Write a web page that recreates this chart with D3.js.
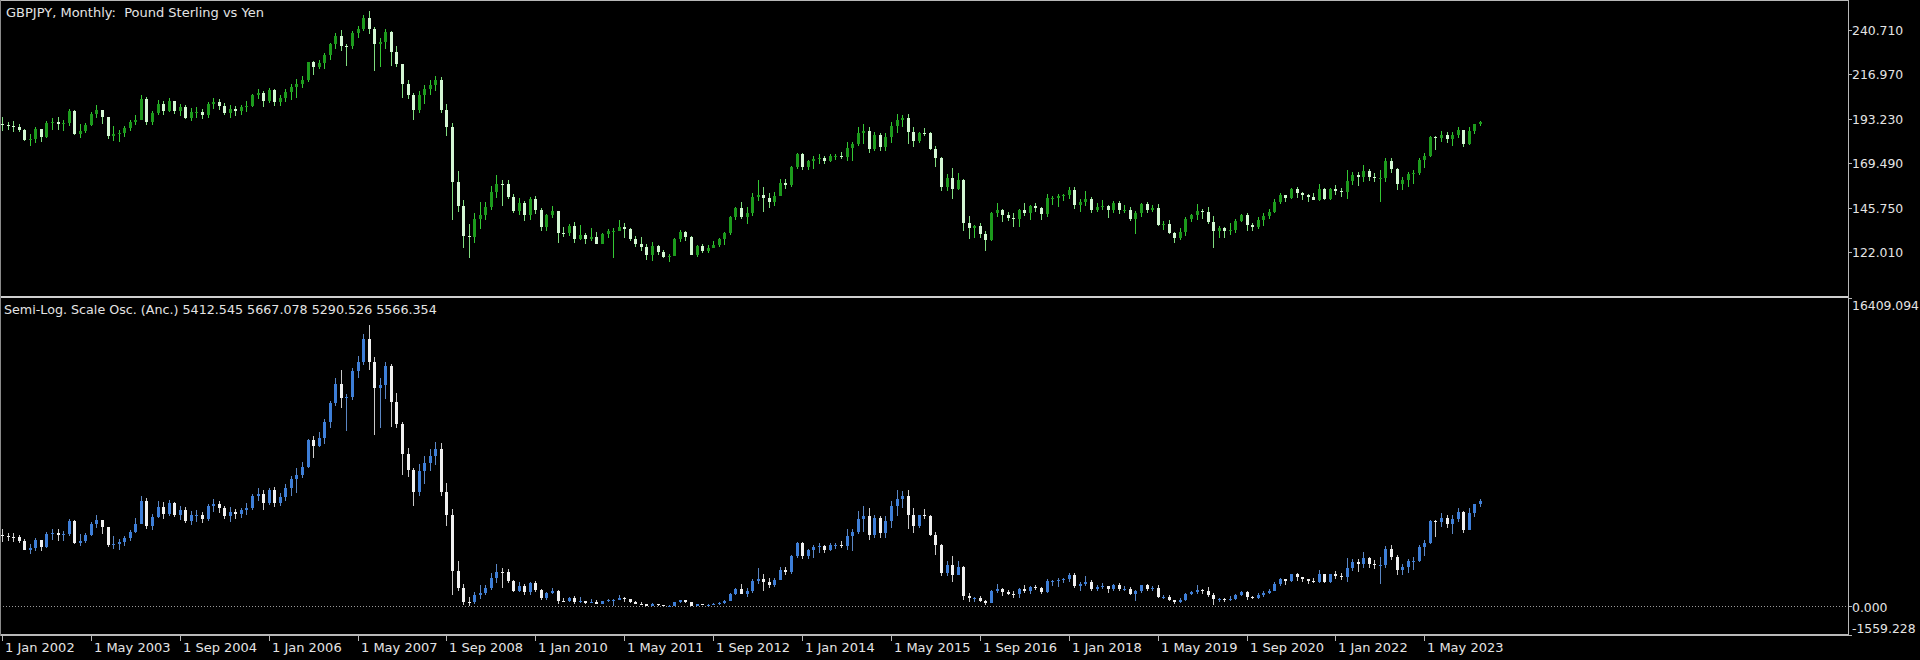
<!DOCTYPE html>
<html><head><meta charset="utf-8">
<script src="https://cdn.jsdelivr.net/npm/d3@7"></script>
<style>html,body{margin:0;padding:0;background:#000;overflow:hidden}svg text{font-family:"DejaVu Sans",sans-serif;white-space:pre}</style>
</head><body>
<svg id="chart" width="1920" height="660"></svg>
<script>
// ---- data: GBPJPY monthly, Jan 2002 .. Mar 2024 ----
const chartTitle = "GBPJPY, Monthly:  Pound Sterling vs Yen";
const oscName = "Semi-Log. Scale Osc. (Anc.)";
const firstMonth = "2002-01";
const priceFirstOpen = 190.6;
const priceClose = [
189.9,189.4,189.1,187.2,181.7,182.5,187.7,183.4,191.2,191.6,190.3,191.1,
197.2,185.2,186.6,190.0,195.8,197.7,194.4,184.0,184.9,185.9,188.3,191.4,
192.7,203.7,191.7,196.2,200.9,197.5,202.5,197.2,199.3,193.9,196.9,197.0,
195.2,201.1,202.3,200.3,196.4,198.6,197.4,199.4,200.2,205.9,206.9,202.8,
208.6,202.1,204.4,207.6,210.5,211.6,214.2,223.4,220.7,222.9,227.5,233.1,
237.3,232.4,232.0,239.1,241.0,247.3,241.0,233.4,234.5,239.9,229.2,222.3,
212.0,206.2,197.9,205.9,208.9,211.3,213.8,198.0,188.7,159.6,146.6,130.5,
130.1,139.7,141.9,145.9,153.9,158.4,158.2,151.6,143.7,148.0,142.0,150.2,
144.5,135.4,141.7,143.9,132.3,132.2,135.7,129.2,131.3,128.8,130.2,126.5,
131.5,133.0,133.2,135.6,134.1,129.2,126.5,124.7,120.3,125.4,121.8,119.5,
120.1,129.2,132.5,129.8,120.6,125.3,122.5,124.4,125.8,128.7,132.2,140.9,
145.3,140.5,143.1,151.4,152.7,150.7,148.8,152.2,158.9,157.7,167.5,174.4,
167.7,170.5,172.0,172.5,170.5,173.3,173.5,172.8,177.8,179.7,185.5,186.6,
177.0,184.6,178.1,183.3,189.6,192.4,193.4,186.0,181.3,185.9,185.4,177.2,
172.4,156.9,161.6,155.6,160.3,137.4,135.1,135.8,131.4,128.3,142.9,144.4,
141.9,140.0,139.8,144.4,142.8,146.4,145.7,142.2,150.8,150.9,152.1,152.3,
155.0,146.9,149.0,150.4,144.7,146.2,146.8,144.3,148.2,144.2,144.7,139.9,
142.8,147.7,144.5,145.3,136.7,136.9,132.4,129.3,132.9,139.7,141.6,144.1,
143.2,138.3,133.5,134.6,133.1,133.7,138.5,141.6,136.3,135.5,139.1,141.1,
143.5,148.5,152.5,151.1,155.8,153.6,152.5,151.3,149.9,155.9,150.4,155.7,
154.7,154.2,159.9,163.3,162.0,165.3,162.2,161.5,161.6,170.5,166.4,158.6,
160.4,163.8,164.0,171.2,173.4,183.3,182.8,184.5,182.3,184.4,187.1,179.6,
186.7,190.3,191.5];
const priceHigh = [
194.0,191.5,191.8,190.5,188.0,185.2,188.9,187.8,192.0,193.8,194.0,192.5,
198.5,198.2,190.3,191.2,196.8,200.4,198.0,194.4,189.5,187.3,189.3,192.4,
195.5,206.0,205.0,197.3,203.4,202.9,204.2,203.0,201.1,200.6,198.8,199.5,
198.6,202.1,204.4,203.6,201.5,200.7,200.0,200.5,202.5,206.5,209.3,208.3,
209.5,209.3,206.0,209.3,212.0,214.4,216.2,223.8,224.2,224.7,228.4,233.7,
239.2,240.9,233.0,240.0,242.6,248.6,251.1,242.4,236.5,241.0,240.4,232.1,
222.5,214.0,207.0,208.3,211.2,213.8,215.9,215.5,201.3,191.0,165.5,149.8,
137.2,142.8,148.5,149.0,157.3,163.1,160.6,160.3,153.0,151.1,149.5,151.4,
152.2,145.5,142.2,146.5,144.0,135.4,137.0,137.8,136.7,132.3,134.8,132.5,
132.1,134.5,134.8,139.2,137.3,135.0,130.8,130.1,126.2,127.1,125.6,123.0,
121.0,129.6,133.6,133.4,130.4,126.0,126.4,125.5,128.0,129.6,132.7,141.4,
146.2,149.0,146.3,153.3,160.7,156.5,153.6,154.0,161.0,161.0,168.1,174.9,
174.9,171.4,173.1,174.4,173.1,174.2,174.4,175.4,180.8,180.9,188.6,190.7,
188.6,186.0,185.4,185.6,191.4,195.9,195.3,195.9,188.8,186.0,188.5,186.0,
178.6,172.9,163.9,166.8,164.0,161.2,141.1,136.6,137.5,133.2,143.5,148.4,
145.2,143.6,142.7,145.2,148.1,147.0,148.1,146.3,152.8,152.0,152.9,153.2,
156.6,156.6,150.4,154.8,151.6,148.2,149.7,147.3,149.1,149.5,147.2,146.2,
144.0,148.2,148.9,147.2,147.9,138.5,139.2,132.6,134.8,140.9,142.3,147.9,
144.8,146.0,141.1,135.9,135.6,137.6,139.6,142.3,142.7,137.7,140.5,142.8,
144.9,150.2,153.4,152.6,156.1,156.8,154.1,152.8,153.4,158.2,156.0,156.2,
157.8,156.3,165.6,165.0,164.9,168.7,166.3,164.3,166.0,172.1,172.2,167.0,
162.0,165.0,166.0,172.3,174.9,183.9,184.0,186.8,186.0,186.0,188.6,187.5,
188.8,190.6,192.2];
const priceLow = [
186.5,187.0,186.3,186.0,181.2,178.7,180.5,181.0,182.7,187.5,187.0,186.8,
189.4,184.8,183.2,185.5,189.3,193.5,190.5,182.6,181.6,181.0,183.4,186.6,
189.7,192.5,190.1,189.7,195.5,195.1,196.6,195.8,194.6,192.9,192.3,193.6,
193.2,193.9,198.5,198.0,195.2,193.5,194.9,195.4,197.1,199.5,203.7,199.6,
201.7,200.3,200.1,202.0,203.3,204.3,209.7,213.1,216.4,219.6,219.9,224.9,
230.8,229.4,221.3,230.5,236.4,240.2,238.6,219.0,221.1,230.3,221.5,221.1,
204.5,203.6,192.6,196.3,201.0,206.0,208.2,196.3,183.9,139.3,143.5,123.9,
118.8,126.6,134.2,138.9,144.6,150.7,146.4,150.3,142.6,142.0,138.8,139.0,
142.5,133.4,133.0,140.0,126.8,130.2,130.5,126.7,128.2,126.1,127.8,126.1,
126.4,129.6,119.0,133.0,129.7,127.9,124.8,122.4,117.8,117.0,120.5,118.7,
116.8,119.8,127.6,127.9,120.2,119.5,121.5,121.7,124.0,124.6,125.9,131.0,
139.1,139.7,136.9,141.1,149.2,143.5,145.8,146.5,152.0,155.6,156.6,166.6,
165.7,165.9,166.2,168.9,169.0,170.3,171.4,171.6,170.7,170.4,178.8,179.7,
174.9,176.0,175.9,176.0,180.5,185.6,189.0,180.0,178.1,180.5,184.1,176.5,
167.4,154.5,154.8,150.3,155.0,133.0,128.8,129.4,129.6,122.4,127.8,140.6,
137.8,138.5,135.6,135.6,141.0,139.3,143.4,139.3,140.7,147.3,146.3,149.3,
150.4,145.2,143.2,146.8,143.0,143.2,144.4,140.4,142.8,142.4,142.8,138.7,
131.5,140.6,142.6,143.2,135.8,134.0,131.6,126.6,128.2,130.4,138.3,139.3,
139.4,136.8,124.0,129.3,129.5,131.2,132.3,137.8,133.1,133.4,134.4,136.0,
139.4,142.8,147.6,148.8,150.5,150.8,150.0,148.5,149.6,149.3,149.6,149.6,
152.6,151.6,150.1,157.6,157.4,159.6,160.0,159.2,148.8,159.7,164.2,155.3,
155.3,156.8,158.3,163.2,166.8,172.8,176.3,180.6,180.5,178.8,183.0,178.0,
179.3,185.1,189.4];

// Semi-Log. Scale Osc. (Anc.) values
const oscFirstOpen = 3791;
const oscClose = [
3724,3678,3651,3478,2997,3064,3523,3139,3848,3886,3762,3838,
4496,3343,3471,3785,4353,4547,4214,3234,3316,3407,3627,3920,
4374,5600,4269,4750,5274,4893,5462,4860,5091,4502,4826,4838,
4641,5298,5438,5204,4771,5014,4882,5102,5192,5861,5982,5496,
6190,5482,5824,6294,6746,6973,7411,8835,8530,8961,9790,10828,
11803,11063,11110,12516,13006,14229,13006,11596,11795,12797,10848,9666,
8101,7224,6048,7179,7627,7993,8383,6061,4853,1867,952,215,
206,591,703,928,1460,1807,1791,1298,801,1057,708,1202,
846,398,693,812,279,275,410,180,245,169,210,108,
252,305,313,405,345,180,108,72,11,86,26,6,
9,180,282,197,13,84,36,64,94,165,265,651,
911,644,783,1310,1403,1261,1131,1366,1885,1786,2657,3361,
2675,2955,3107,3160,2955,3244,3265,3192,3735,3953,4646,4785,
3754,4666,3904,4503,5317,5699,5839,4848,4262,4834,4770,3780,
3241,1772,2176,1666,2060,508,405,435,261,163,795,883,
738,635,625,883,790,1007,963,755,1305,1313,1399,1413,
1619,1040,1178,1277,900,993,1033,877,1124,872,900,630,
790,1085,888,938,476,485,297,192,316,621,734,865,
813,550,339,384,324,348,561,734,457,421,590,695,
806,1145,1429,1326,1682,1511,1429,1341,1241,1690,1277,1674,
1596,1556,2025,2332,2211,2520,2230,2166,2176,3042,2626,1914,
2069,2377,2396,3114,3350,4503,4443,4654,4383,4641,4990,4057,
4938,5412.545,5566.354];
const oscHigh = [
4117,3876,3905,3781,3550,3298,3633,3532,3924,4098,4117,3972,
4628,4556,3814,3901,4455,4825,4577,4214,3738,3535,3720,4017,
4673,5873,5754,4870,5566,5507,5659,5519,5298,5239,5036,5114,
5014,5414,5682,5589,5345,5251,5169,5227,5462,5934,6276,6152,
6301,6354,6020,6511,6943,7353,7691,8895,9059,9239,9935,10929,
12143,12585,11286,12684,13312,14487,14989,13273,12163,13006,12891,11362,
9799,8414,7342,7536,7977,8383,8717,8653,6519,5140,2371,1152,
475,752,1090,1122,1720,2203,1988,1962,1396,1263,1155,1284,
1339,905,719,965,817,398,466,501,453,279,373,282,
271,366,373,567,488,381,229,200,103,126,90,43,
15,192,327,319,216,98,108,76,146,192,281,676,
965,1144,971,1445,2036,1690,1468,1496,2062,2062,2715,3415,
3415,3046,3222,3361,3222,3338,3361,3470,4081,4093,5039,5310,
5187,4848,4770,4796,5562,6190,6106,6190,5212,4848,5173,4848,
3940,3296,2387,2666,2396,2141,695,471,512,329,830,1136,
931,835,783,931,1116,1047,1116,1000,1451,1391,1458,1481,
1748,1748,1277,1603,1377,1124,1227,1067,1185,1213,1059,993,
858,1124,1172,1059,1097,561,595,303,392,684,767,1097,
904,981,695,439,425,517,615,767,783,522,663,790,
910,1262,1495,1436,1706,1764,1548,1451,1495,1881,1698,1715,
1847,1724,2549,2492,2482,2856,2617,2424,2587,3209,3220,2686,
2211,2492,2587,3231,3515,4576,4589,4951,4848,4848,5187,5042,
5212,5451,5667.078];
const oscLow = [
3415,3460,3397,3370,2954,2747,2895,2938,3081,3505,3460,3442,
3729,3307,3165,3371,3720,4125,3833,3114,3029,2978,3182,3471,
3900,4353,4102,4062,4673,4630,4794,4706,4577,4395,4332,4470,
4427,4502,5003,4948,4641,4459,4609,4662,4849,5114,5600,5125,
5356,5269,5310,5606,5832,6026,6800,7345,7899,8461,8602,9479,
10672,10547,9305,10963,12144,12853,12553,9123,9468,11042,9533,9468,
6976,6846,5345,5831,6476,7194,7522,5831,4271,561,774,56,
2,112,349,553,852,1236,959,1209,741,708,548,558,
735,319,305,605,117,210,219,115,152,100,141,100,
105,192,2,305,194,144,74,34,0,0,13,2,
0,7,136,144,11,6,20,22,58,64,96,235,
573,603,471,675,1159,806,940,984,1352,1619,1698,2570,
2486,2504,2533,2795,2805,2935,3046,3066,2975,2945,3851,3953,
3515,3639,3628,3639,4164,4796,5238,4104,3904,4164,4601,3697,
2726,1580,1603,1269,1619,320,177,196,202,36,148,668,
526,561,425,425,690,601,823,601,673,1067,1000,1199,
1277,931,813,1033,801,813,883,657,790,767,790,570,
265,668,778,813,435,358,268,118,160,227,550,601,
606,482,61,194,198,248,293,526,324,336,376,443,
606,790,1078,1131,1284,1305,1247,1145,1220,1199,1220,1220,
1436,1377,1255,1830,1813,2000,2034,1966,1164,2009,2415,1643,
1643,1764,1889,2323,2666,3285,3674,4177,4164,3851,4467,3868,
4034,4731,5290.526];

const priceTicks = [240.710, 216.970, 193.230, 169.490, 145.750, 122.010];
const oscTicks = [16409.094, 0.000, -1559.228];
const xTickLabels = ["1 Jan 2002","1 May 2003","1 Sep 2004","1 Jan 2006","1 May 2007","1 Sep 2008",
  "1 Jan 2010","1 May 2011","1 Sep 2012","1 Jan 2014","1 May 2015","1 Sep 2016","1 Jan 2018",
  "1 May 2019","1 Sep 2020","1 Jan 2022","1 May 2023"];

// ---- build ----
const parseMonth = d3.timeParse("%Y-%m");
const start = parseMonth(firstMonth);
const months = d3.timeMonth.range(start, d3.timeMonth.offset(start, priceClose.length));
const priceOpen = [priceFirstOpen].concat(priceClose.slice(0, -1));
const oscOpen = [oscFirstOpen].concat(oscClose.slice(0, -1));
const bars = months.map((m, i) => ({
  m, o: priceOpen[i], h: priceHigh[i], l: priceLow[i], c: priceClose[i],
  oo: oscOpen[i], oh: oscHigh[i], ol: oscLow[i], oc: oscClose[i]
}));

const svg = d3.select("#chart");
const plotRight = 1848;
const step = 5.556, pad = 0.46, firstCenter = 2.5;
const x = d3.scaleBand()
  .domain(months.map(d => +d))
  .range([firstCenter - step / 2, firstCenter - step / 2 + step * months.length])
  .paddingInner(pad).paddingOuter(pad / 2);
const cx = d => Math.floor(x(+d) + x.bandwidth() / 2);

const yP = d3.scaleLinear().domain([122.010, 240.710]).range([252, 30]);
const yO = d3.scaleLinear().domain([-1559.228, 16409.094]).range([635, 298]);

svg.append("rect").attr("width", 1920).attr("height", 660).attr("fill", "#000");

// zero level (dotted)
svg.append("line").attr("x1", 0).attr("x2", plotRight).attr("y1", Math.round(yO(0)) + 0.5).attr("y2", Math.round(yO(0)) + 0.5)
  .attr("stroke", "#9a9a9a").attr("stroke-dasharray", "1,2");

function drawCandles(g, yS, key, colors) {
  const [ko, kh, kl, kc] = key;
  g.selectAll("rect.wick").data(bars).join("rect").attr("class", "wick")
    .attr("x", d => cx(d.m)).attr("width", 1)
    .attr("y", d => Math.round(yS(d[kh])))
    .attr("height", d => Math.max(1, Math.round(yS(d[kl])) - Math.round(yS(d[kh]))))
    .attr("fill", d => d[kc] >= d[ko] ? colors.upWick : colors.dnWick);
  g.selectAll("rect.body").data(bars).join("rect").attr("class", "body")
    .attr("x", d => cx(d.m) - 1).attr("width", 3)
    .attr("y", d => Math.round(yS(Math.max(d[ko], d[kc]))))
    .attr("height", d => Math.max(1, Math.round(yS(Math.min(d[ko], d[kc]))) - Math.round(yS(Math.max(d[ko], d[kc])))))
    .attr("fill", d => d[kc] >= d[ko] ? colors.up : colors.dn);
}

drawCandles(svg.append("g"), yP, ["o", "h", "l", "c"],
  { up: "#1c9a1c", dn: "#d4f7d4", upWick: "#34c834", dnWick: "#7fdc7f" });
drawCandles(svg.append("g"), yO, ["oo", "oh", "ol", "oc"],
  { up: "#3d7ed8", dn: "#f0f0f0", upWick: "#5a86c4", dnWick: "#c8c8c8" });

// frame
const frame = "#b8b8b8";
svg.append("rect").attr("x", 0).attr("y", 0).attr("width", plotRight).attr("height", 1).attr("fill", frame);
svg.append("rect").attr("x", 0).attr("y", 296).attr("width", plotRight + 1).attr("height", 2).attr("fill", "#cfcfcf");
svg.append("rect").attr("x", 0).attr("y", 634).attr("width", plotRight + 1).attr("height", 2).attr("fill", frame);
svg.append("rect").attr("x", 0).attr("y", 0).attr("width", 1).attr("height", 636).attr("fill", "#8a8a8a");
svg.append("rect").attr("x", plotRight).attr("y", 0).attr("width", 1).attr("height", 636).attr("fill", frame);

const txt = "#e4e4e4";
const axisFont = 12.4;
// right axis - price
const gp = svg.append("g");
priceTicks.forEach(v => {
  const y = Math.round(yP(v));
  gp.append("rect").attr("x", plotRight + 1).attr("y", y).attr("width", 3).attr("height", 1).attr("fill", frame);
  gp.append("text").attr("x", plotRight + 4).attr("y", y + 5).attr("font-size", axisFont).attr("fill", txt).text(v.toFixed(3));
});
// right axis - oscillator
const go = svg.append("g");
const oscLabelY = [310, null, 633];
oscTicks.forEach((v, i) => {
  const y = Math.round(yO(v));
  go.append("rect").attr("x", plotRight + 1).attr("y", y).attr("width", 3).attr("height", 1).attr("fill", frame);
  go.append("text").attr("x", plotRight + 4).attr("y", oscLabelY[i] !== null ? oscLabelY[i] : y + 6)
    .attr("font-size", axisFont).attr("fill", txt).text(v.toFixed(3));
});

// bottom time axis
const parseTick = d3.timeParse("%d %b %Y");
const gx = svg.append("g");
xTickLabels.forEach(lbl => {
  const d = parseTick(lbl);
  const xx = cx(d);
  gx.append("rect").attr("x", xx).attr("y", 636).attr("width", 1).attr("height", 5).attr("fill", frame);
  gx.append("text").attr("x", xx + 3).attr("y", 652).attr("font-size", 13).attr("fill", txt).text(lbl);
});

// titles
svg.append("text").attr("x", 6).attr("y", 17).attr("font-size", 13).attr("fill", txt).text(chartTitle);
const last = bars[bars.length - 1];
svg.append("text").attr("x", 4).attr("y", 314).attr("font-size", 12.7).attr("fill", txt)
  .text(`${oscName} ${last.oo.toFixed(3)} ${last.oh.toFixed(3)} ${last.ol.toFixed(3)} ${last.oc.toFixed(3)}`);
</script>
</body></html>
